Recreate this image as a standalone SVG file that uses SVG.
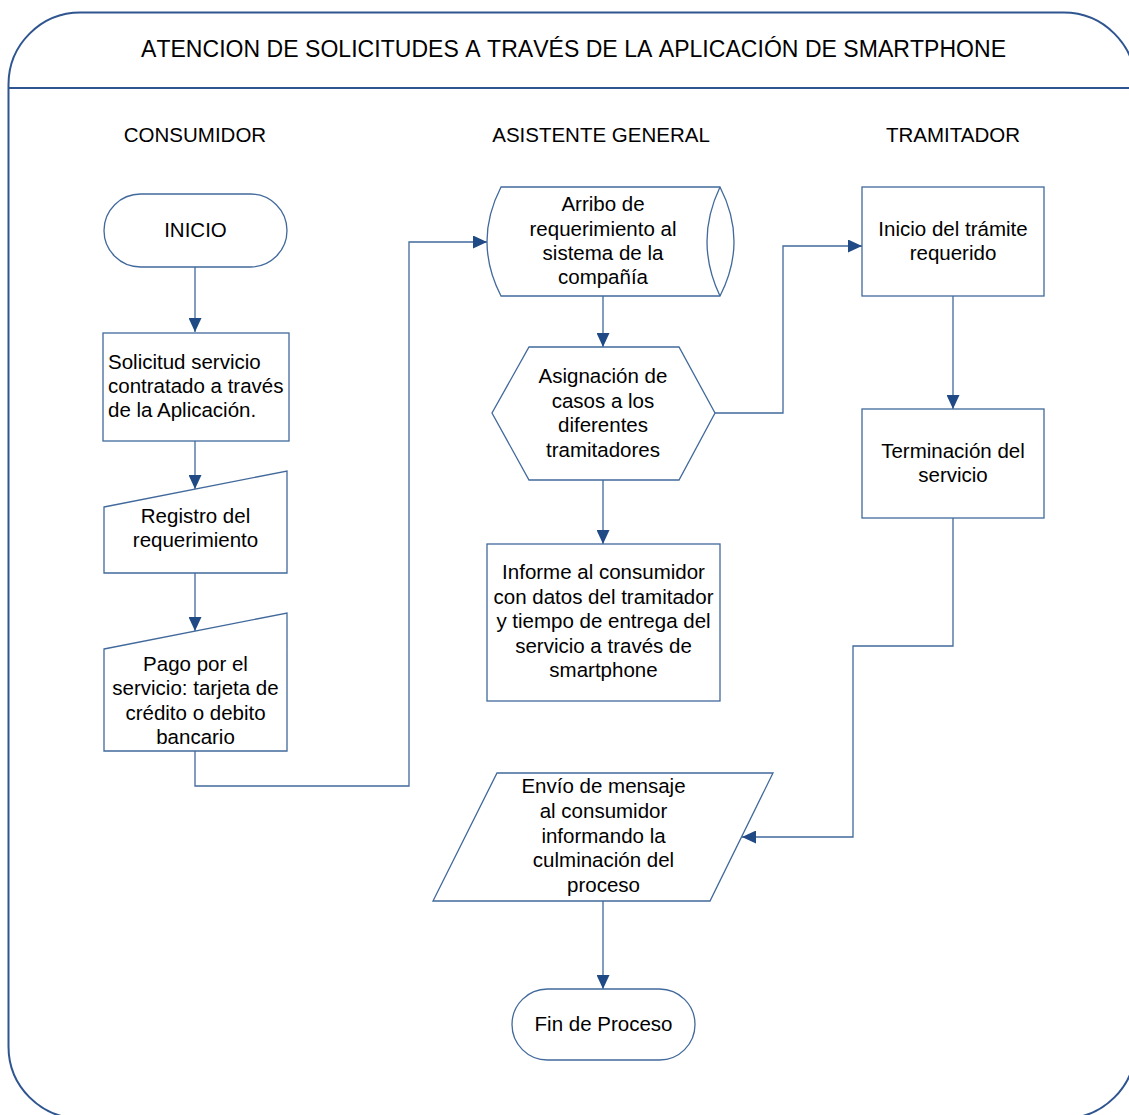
<svg xmlns="http://www.w3.org/2000/svg" width="1129" height="1115" viewBox="0 0 1129 1115">
<style>
  .frame{fill:none;stroke:#2F5590;stroke-width:2}
  .node{fill:#fff;stroke:#41699C;stroke-width:1.3}
  .conn{fill:none;stroke:#41699C;stroke-width:1.3}
  text{font-family:"Liberation Sans",Arial,sans-serif;font-size:20.5px;fill:#000}
  .c{text-anchor:middle}
  .title{font-size:23px;font-kerning:none}
</style>
<defs>
  <marker id="arr" markerUnits="userSpaceOnUse" viewBox="0 0 14 13" markerWidth="14" markerHeight="13" refX="14" refY="6.5" orient="auto">
    <path d="M0,0 L14,6.5 L0,13 z" fill="#1F4A85"/>
  </marker>
</defs>
<rect width="1129" height="1115" fill="#fff"/>
<g id="frame">
  <rect class="frame" x="8.5" y="12.5" width="1127" height="1106" rx="72" ry="72"/>
  <line class="frame" x1="8.5" y1="88" x2="1129" y2="88"/>
  <text class="c title" x="573.5" y="57" textLength="865" lengthAdjust="spacing">ATENCION DE SOLICITUDES A TRAVÉS DE LA APLICACIÓN DE SMARTPHONE</text>
  <text class="c" x="195" y="142">CONSUMIDOR</text>
  <text class="c" x="601" y="142">ASISTENTE GENERAL</text>
  <text class="c" x="953" y="142">TRAMITADOR</text>
</g>
<g id="connectors">
  <path class="conn" d="M195,267 V332" marker-end="url(#arr)"/>
  <path class="conn" d="M195,441 V489" marker-end="url(#arr)"/>
  <path class="conn" d="M195,573 V631" marker-end="url(#arr)"/>
  <path class="conn" d="M195,751 V786 H409 V242 H487" marker-end="url(#arr)"/>
  <path class="conn" d="M603,296 V347" marker-end="url(#arr)"/>
  <path class="conn" d="M715,413 H783 V246 H862" marker-end="url(#arr)"/>
  <path class="conn" d="M603,480 V544" marker-end="url(#arr)"/>
  <path class="conn" d="M953,296 V409" marker-end="url(#arr)"/>
  <path class="conn" d="M953,518 V646 H853 V837 H742" marker-end="url(#arr)"/>
  <path class="conn" d="M603,901 V989" marker-end="url(#arr)"/>
</g>
<g id="n-inicio">
  <rect class="node" x="104" y="194" width="183" height="73" rx="36.5" ry="36.5"/>
  <text class="c" x="195.5" y="237">INICIO</text>
</g>
<g id="n-solicitud">
  <rect class="node" x="103" y="333" width="186" height="108"/>
  <text x="108" y="369">Solicitud servicio</text>
  <text x="108" y="393">contratado a través</text>
  <text x="108" y="417">de la Aplicación.</text>
</g>
<g id="n-registro">
  <path class="node" d="M104,507 L287,471 V573 H104 Z"/>
  <text class="c" x="195.5" y="523">Registro del</text>
  <text class="c" x="195.5" y="547">requerimiento</text>
</g>
<g id="n-pago">
  <path class="node" d="M104,649 L287,613 V751 H104 Z"/>
  <text class="c" x="195.5" y="671">Pago por el</text>
  <text class="c" x="195.5" y="695">servicio: tarjeta de</text>
  <text class="c" x="195.5" y="720">crédito o debito</text>
  <text class="c" x="195.5" y="744">bancario</text>
</g>
<g id="n-arribo">
  <path class="node" d="M501,187 H720 Q748,241.5 720,296 H501 Q473,241.5 501,187 Z"/>
  <path class="node" d="M720,187 Q694,241.5 720,296"/>
  <text class="c" x="603" y="211">Arribo de</text>
  <text class="c" x="603" y="236">requerimiento al</text>
  <text class="c" x="603" y="260">sistema de la</text>
  <text class="c" x="603" y="284">compañía</text>
</g>
<g id="n-asignacion">
  <path class="node" d="M529,347 H679 L715,413 L679,480 H529 L492,413 Z"/>
  <text class="c" x="603" y="383">Asignación de</text>
  <text class="c" x="603" y="408">casos a los</text>
  <text class="c" x="603" y="432">diferentes</text>
  <text class="c" x="603" y="457">tramitadores</text>
</g>
<g id="n-informe">
  <rect class="node" x="487" y="544" width="233" height="157"/>
  <text class="c" x="603.5" y="579">Informe al consumidor</text>
  <text class="c" x="603.5" y="604">con datos del tramitador</text>
  <text class="c" x="603.5" y="628">y tiempo de entrega del</text>
  <text class="c" x="603.5" y="653">servicio a través de</text>
  <text class="c" x="603.5" y="677">smartphone</text>
</g>
<g id="n-tramite">
  <rect class="node" x="862" y="187" width="182" height="109"/>
  <text class="c" x="953" y="236">Inicio del trámite</text>
  <text class="c" x="953" y="260">requerido</text>
</g>
<g id="n-terminacion">
  <rect class="node" x="862" y="409" width="182" height="109"/>
  <text class="c" x="953" y="458">Terminación del</text>
  <text class="c" x="953" y="482">servicio</text>
</g>
<g id="n-envio">
  <path class="node" d="M497,773 H773 L710,901 H433 Z"/>
  <text class="c" x="603.5" y="793">Envío de mensaje</text>
  <text class="c" x="603.5" y="818">al consumidor</text>
  <text class="c" x="603.5" y="843">informando la</text>
  <text class="c" x="603.5" y="867">culminación del</text>
  <text class="c" x="603.5" y="892">proceso</text>
</g>
<g id="n-fin">
  <rect class="node" x="512" y="989" width="183" height="71" rx="35.5" ry="35.5"/>
  <text class="c" x="603.5" y="1031">Fin de Proceso</text>
</g>
</svg>
